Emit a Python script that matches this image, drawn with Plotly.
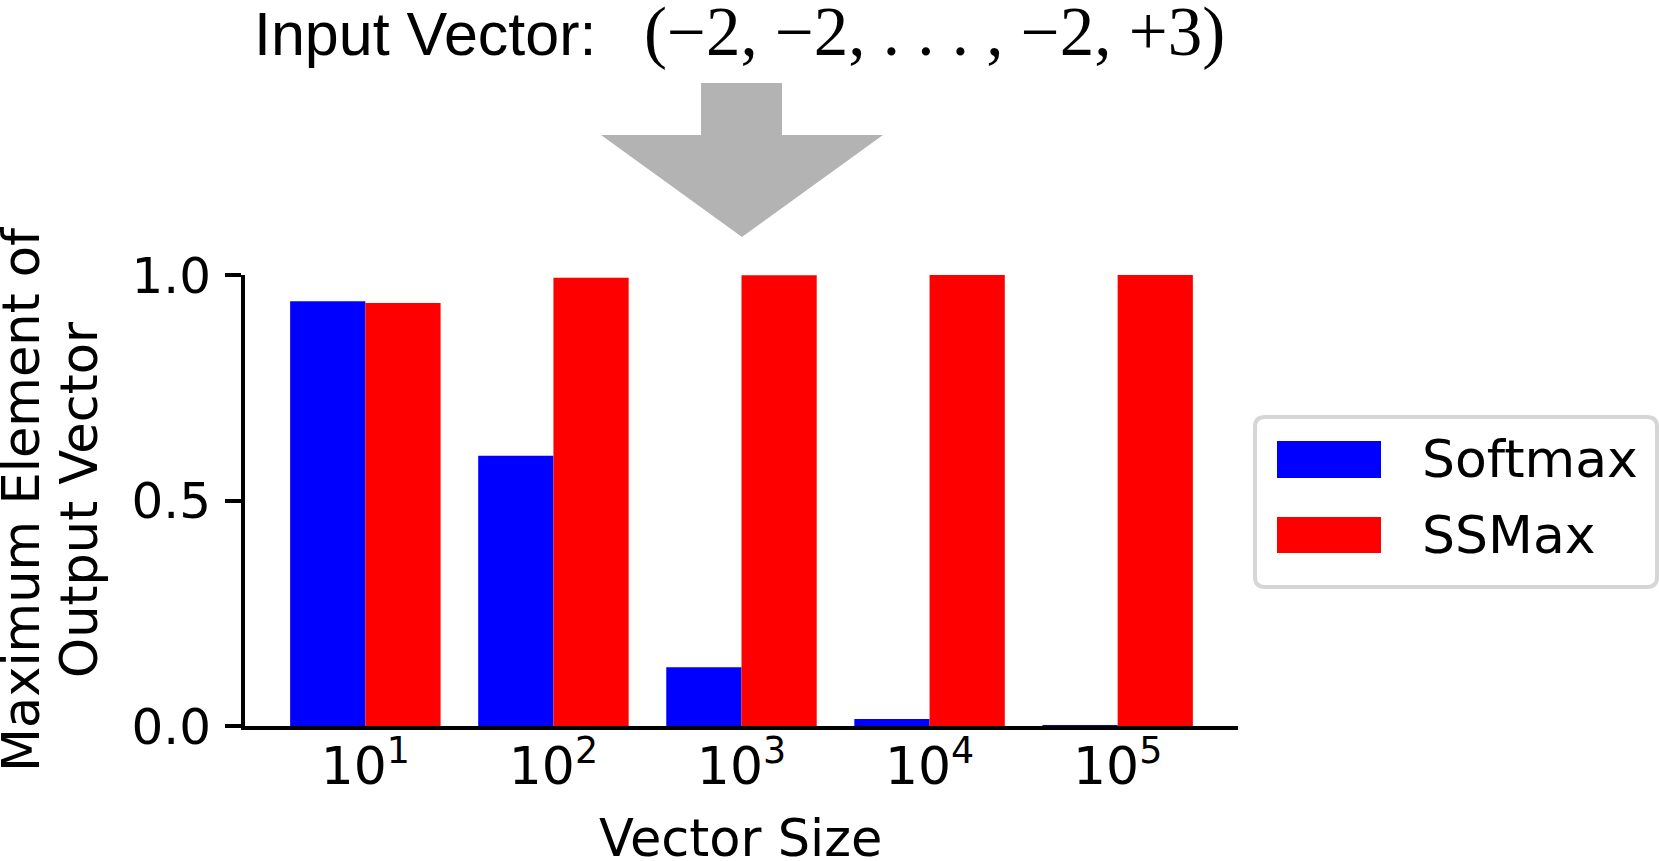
import plotly.graph_objects as go

# ---- data ----
categories = ["10<sup>1</sup>", "10<sup>2</sup>", "10<sup>3</sup>", "10<sup>4</sup>", "10<sup>5</sup>"]
softmax_vals = [0.942, 0.599, 0.130, 0.0155, 0.0015]
ssmax_vals = [0.938, 0.994, 0.9995, 0.9999, 1.0]
series_names = ["Softmax", "SSMax"]
series_colors = ["#0000ff", "#ff0000"]
y_ticks = [0.0, 0.5, 1.0]
y_tick_labels = ["0.0", "0.5", "1.0"]

W, H = 1659, 861
ML, MR, MT, MB = 245, 421, 275, 135
PW = W - ML - MR
PH = H - MT - MB

def px(x):
    return (x - ML) / PW

def py(y):
    return (H - MB - y) / PH

FONT = "DejaVu Sans"

fig = go.Figure()
xs = list(range(len(categories)))
for name, vals, col in zip(series_names, [softmax_vals, ssmax_vals], series_colors):
    fig.add_trace(go.Bar(x=xs, y=vals, name=name, marker=dict(color=col, line=dict(width=0)),
                         showlegend=False))

fig.update_layout(
    width=W, height=H,
    margin=dict(l=ML, r=MR, t=MT, b=MB, pad=0),
    paper_bgcolor="white", plot_bgcolor="white",
    barmode="group", bargap=0.2, bargroupgap=0,
    font=dict(family=FONT, color="black", size=50),
)
fig.update_xaxes(
    range=[-0.64, 4.64], tickmode="array", tickvals=xs, ticktext=categories,
    showline=True, linecolor="black", linewidth=4, ticks="", showgrid=False, zeroline=False,
    tickfont=dict(family=FONT, size=52, color="black"), ticklabelstandoff=-8,
)
fig.update_yaxes(
    range=[0, 1], tickmode="array", tickvals=y_ticks, ticktext=y_tick_labels,
    showline=True, linecolor="black", linewidth=4, ticks="outside", ticklen=16, tickwidth=4,
    tickcolor="black", showgrid=False, zeroline=False,
    tickfont=dict(family=FONT, size=50, color="black"), ticklabelstandoff=4,
)

ann = []
# y-axis title (two lines)
ann.append(dict(text="Maximum Element of", x=px(21), y=py(500), xref="paper", yref="paper",
                textangle=-90, showarrow=False, xanchor="center", yanchor="middle",
                font=dict(family=FONT, size=51, color="black")))
ann.append(dict(text="Output Vector", x=px(79), y=py(500), xref="paper", yref="paper",
                textangle=-90, showarrow=False, xanchor="center", yanchor="middle",
                font=dict(family=FONT, size=51, color="black")))
# x-axis title
ann.append(dict(text="Vector Size", x=px(740), y=py(838), xref="paper", yref="paper",
                showarrow=False, xanchor="center", yanchor="middle",
                font=dict(family=FONT, size=51, color="black")))
# title
ann.append(dict(text="Input Vector:", x=px(252), y=py(34), xref="paper", yref="paper",
                showarrow=False, xanchor="left", yanchor="middle",
                font=dict(family="Liberation Sans", size=61, color="black")))
ann.append(dict(text="(\u22122, \u22122, . . . , \u22122, +3)", x=px(934), y=py(32), xref="paper", yref="paper",
                showarrow=False, xanchor="center", yanchor="middle",
                font=dict(family="Liberation Serif", size=69, color="black")))
# legend labels
ann.append(dict(text=series_names[0], x=px(1420), y=py(459), xref="paper", yref="paper",
                showarrow=False, xanchor="left", yanchor="middle",
                font=dict(family=FONT, size=52, color="black")))
ann.append(dict(text=series_names[1], x=px(1420), y=py(535), xref="paper", yref="paper",
                showarrow=False, xanchor="left", yanchor="middle",
                font=dict(family=FONT, size=52, color="black")))

shapes = []
# arrow
arrow_pts = [(701, 83), (782, 83), (782, 135), (883, 135), (742, 237), (601, 135), (701, 135)]
path = "M " + " L ".join(f"{px(a)},{py(b)}" for a, b in arrow_pts) + " Z"
shapes.append(dict(type="path", path=path, xref="paper", yref="paper",
                   fillcolor="#b3b3b3", line=dict(width=0)))
# legend frame (rounded)
x0, x1, y0, y1, r = 1255, 1657, 417, 587, 10
fr = (f"M {px(x0+r)},{py(y0)} L {px(x1-r)},{py(y0)} Q {px(x1)},{py(y0)} {px(x1)},{py(y0+r)} "
      f"L {px(x1)},{py(y1-r)} Q {px(x1)},{py(y1)} {px(x1-r)},{py(y1)} "
      f"L {px(x0+r)},{py(y1)} Q {px(x0)},{py(y1)} {px(x0)},{py(y1-r)} "
      f"L {px(x0)},{py(y0+r)} Q {px(x0)},{py(y0)} {px(x0+r)},{py(y0)} Z")
shapes.append(dict(type="path", path=fr, xref="paper", yref="paper",
                   fillcolor="white", line=dict(color="#d6d6d6", width=4)))
# legend swatches
for (ya, yb), col in zip([(441, 478), (517, 553)], series_colors):
    shapes.append(dict(type="rect", x0=px(1277), x1=px(1381), y0=py(yb), y1=py(ya),
                       xref="paper", yref="paper", fillcolor=col, line=dict(width=0)))

fig.update_layout(annotations=ann, shapes=shapes)
fig.write_html("out.html")
